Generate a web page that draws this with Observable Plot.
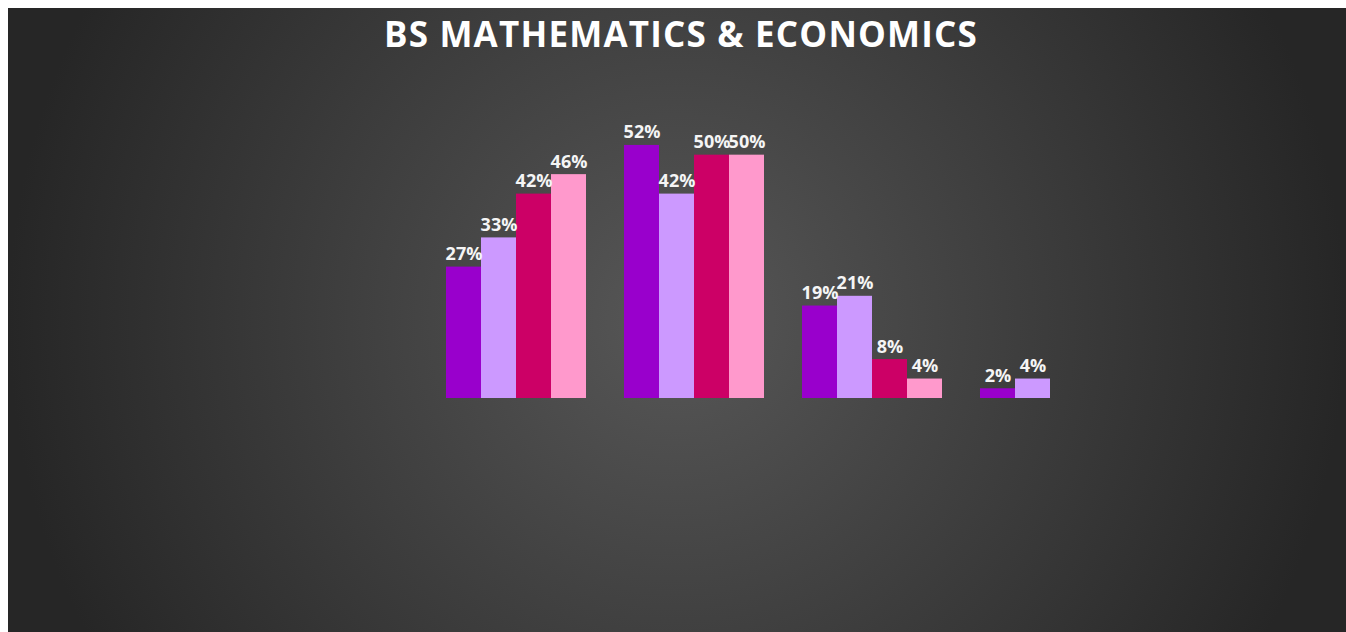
<!DOCTYPE html>
<html><head><meta charset="utf-8">
<script src="https://cdn.jsdelivr.net/npm/d3@7"></script>
<script src="https://cdn.jsdelivr.net/npm/@observablehq/plot@0.6"></script>
<style>
html,body{margin:0;padding:0;background:#fff;overflow:hidden;}
#chart{position:absolute;left:8px;top:8px;width:1338px;height:624px;overflow:hidden;
  background:radial-gradient(circle farthest-side at 50% 50%, #575757 0%, #262626 100%);}
#title{position:absolute;left:0;width:1346px;top:8px;text-align:center;font-family:"Open Sans",sans-serif;font-weight:700;font-size:35px;line-height:35px;letter-spacing:1.2px;color:#fff;white-space:nowrap;}
#plot{position:absolute;left:0;top:0;}
</style></head>
<body>
<div id="chart"><div id="plot"></div><div id="title">BS MATHEMATICS &amp; ECONOMICS</div></div>
<script>
const groups = ["Strongly Agree", "Agree", "Neutral", "Disagree"];
const series = ["Series 1", "Series 2", "Series 3", "Series 4"];
const colors = ["#9900CC", "#CC99FF", "#CC0066", "#FF99CC"];
const series1 = [0.27, 0.52, 0.19, 0.02];
const series2 = [0.33, 0.42, 0.21, 0.04];
const series3 = [0.42, 0.50, 0.08, null];
const series4 = [0.46, 0.50, 0.04, null];

const valuesBySeries = [series1, series2, series3, series4];
const data = [];
groups.forEach((g, gi) => {
  series.forEach((s, si) => {
    const v = valuesBySeries[si][gi];
    if (v != null) data.push({group: g, series: s, value: v});
  });
});

const chart = Plot.plot({
  width: 1338,
  height: 624,
  marginTop: 98,
  marginBottom: 234,
  marginLeft: 419,
  marginRight: 206,
  style: {background: "transparent", overflow: "visible"},
  fx: {domain: groups, paddingInner: 0.2, paddingOuter: 0.1, axis: null, label: null},
  x: {domain: series, padding: 0, axis: null},
  y: {domain: [0, 0.6], axis: null},
  color: {domain: series, range: colors},
  marks: [
    Plot.barY(data, {fx: "group", x: "series", y: "value", fill: "series"}),
    Plot.text(data, {
      fx: "group", x: "series", y: "value",
      text: d => Math.round(d.value * 100) + "%",
      lineAnchor: "bottom", dy: -7,
      fill: "#f5f5f5", fontWeight: 700, fontSize: 18, fontFamily: "Open Sans"
    })
  ]
});
document.getElementById("plot").appendChild(chart);
</script>
</body></html>
